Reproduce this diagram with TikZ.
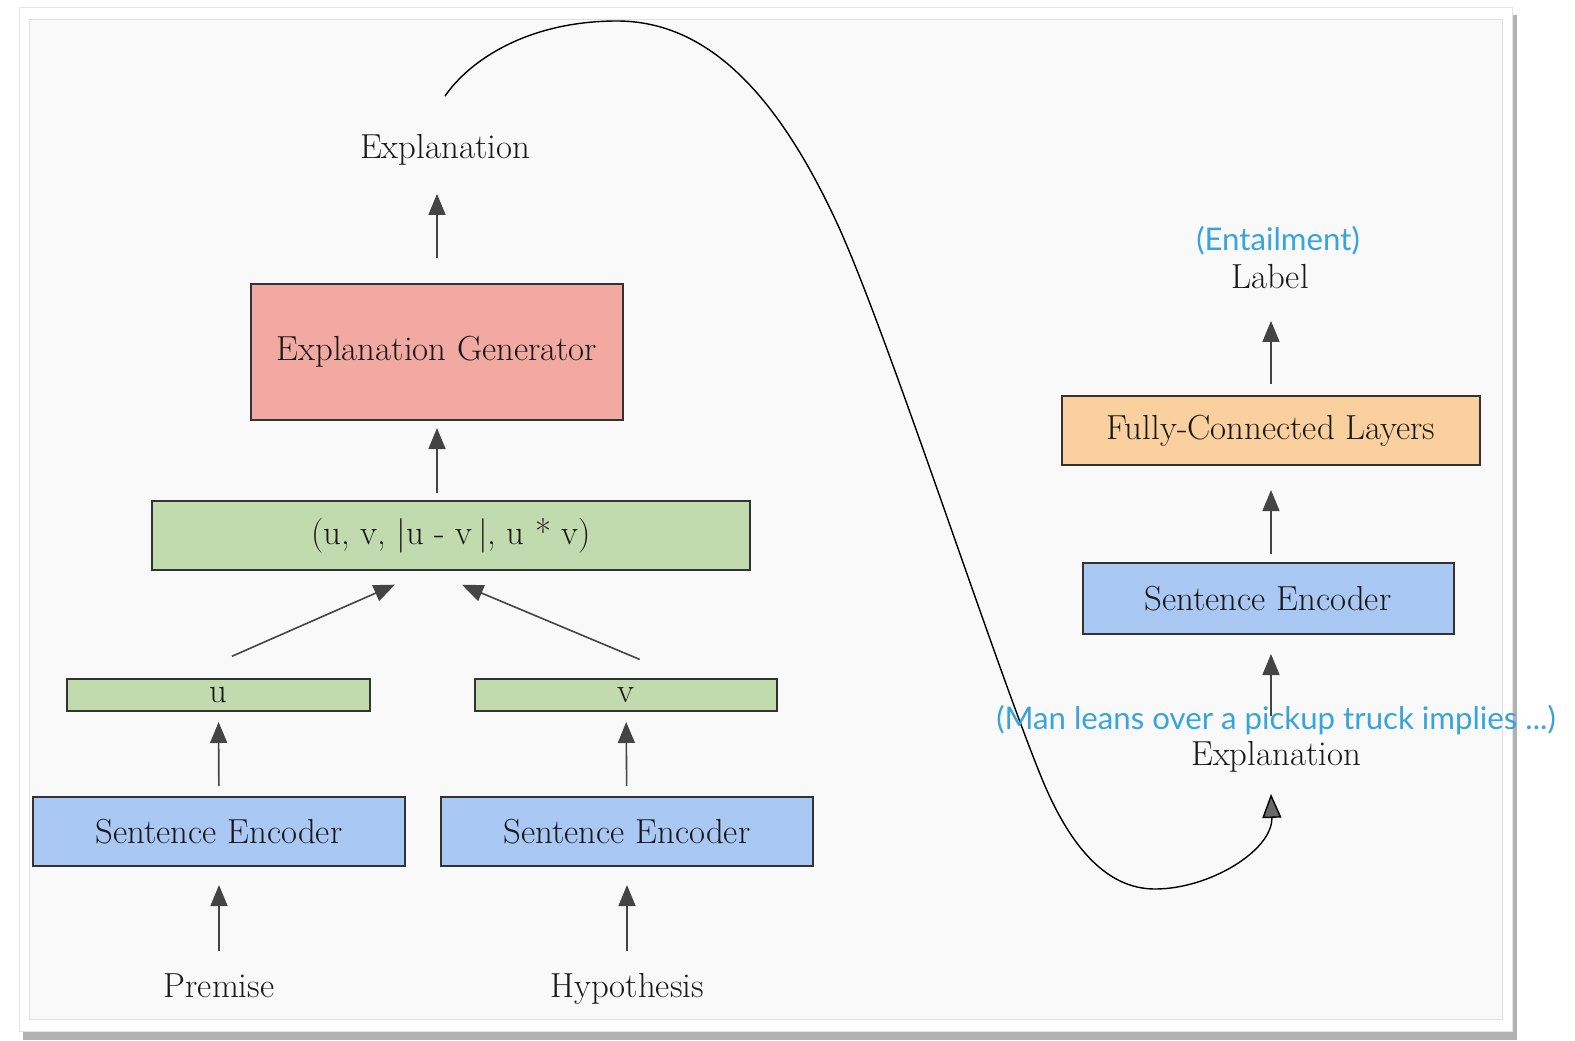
\documentclass[tikz,border=0pt]{standalone}
\usepackage{fontspec}
\newfontfamily\notefont{Lato}
\usetikzlibrary{arrows.meta}
\definecolor{genred}{HTML}{F2A9A2}
\definecolor{vecgreen}{HTML}{C2DBAE}
\definecolor{encblue}{HTML}{A9C8F4}
\definecolor{fcorange}{HTML}{FBD09F}
\definecolor{noteblue}{HTML}{38A4DC}
\definecolor{arrowgray}{HTML}{444444}
\definecolor{panel}{HTML}{F9F9F9}

\begin{document}
\begin{tikzpicture}[x=0.5pt,y=-0.5pt]
      \tikzset{
        block/.style={draw=black!80,line width=1pt,inner sep=0pt,text=black!90,font=\fontsize{17.4}{20}\selectfont},
        word/.style={inner sep=0pt,text height=12pt,text depth=3.5pt,text=black!90,font=\fontsize{17.4}{20}\selectfont},
        note/.style={inner sep=0pt,text=noteblue,font=\notefont\fontsize{15.6}{18}\selectfont},
        arr/.style={draw=arrowgray,line width=0.8pt,-{Triangle[length=10.5pt,width=8.5pt]},shorten <=5pt,shorten >=5pt},
        curve/.style={line width=0.7pt,-{Triangle[length=12pt,width=9.5pt,fill=arrowgray!80]}}
      }
      \useasboundingbox (0,0) rectangle (1575,1040);
      \fill[black!30] (23,15) rectangle (1517,1040);
      \filldraw[fill=white,draw=black!10] (19,7) rectangle (1512,1031);
      \filldraw[fill=panel,draw=black!12,line width=0.5pt] (29,19) rectangle (1502,1019);

      \node[block,fill=genred,minimum width=186pt,minimum height=68pt] (gen) at (437,352) {Explanation Generator};
      \node[block,fill=vecgreen,minimum width=299pt,minimum height=34.5pt] (vec) at (451,535.5) {(u, v, $\big|$u - v\,$\big|$, u * v)};
      \node[block,fill=vecgreen,minimum width=151.5pt,minimum height=16pt] (u) at (218.5,695) {u};
      \node[block,fill=vecgreen,minimum width=151pt,minimum height=16pt] (v) at (626,695) {v};
      \node[block,fill=encblue,minimum width=186pt,minimum height=34.5pt] (encP) at (219,831.5) {Sentence Encoder};
      \node[block,fill=encblue,minimum width=186pt,minimum height=34.5pt] (encH) at (627,831.5) {Sentence Encoder};
      \node[word] (prem) at (219,989) {Premise};
      \node[word] (hyp) at (627,989) {Hypothesis};
      \node[word] (expl) at (445,149.5) {Explanation};

      \node[block,fill=fcorange,minimum width=209pt,minimum height=34.5pt] (fc) at (1271,430.5) {Fully-Connected Layers};
      \node[block,fill=encblue,minimum width=185.5pt,minimum height=35.5pt] (encE) at (1268,598.5) {Sentence Encoder};
      \node[word] (label) at (1270,279.5) {Label};
      \node[note] (ent) at (1278,241) {(Entailment)};
      \node[word] (explR) at (1276,756.5) {Explanation};

      \draw[arr,shorten <=12.5pt,shorten >=14.25pt] (gen.north) -- (gen.north |- expl.south);
      \draw[arr,shorten <=3.5pt,shorten >=3.5pt] (gen.south |- vec.north) -- (gen.south);
      \draw[arr,shorten <=27pt,shorten >=17pt] ([xshift=-18pt]u.north) -- ([xshift=-12.5pt]vec.south);
      \draw[arr,shorten <=24pt,shorten >=18pt] ([xshift=29pt]v.north) -- ([xshift=-11pt]vec.south);
      \draw[arr] (encP) -- (u);
      \draw[arr] (encH) -- (v);
      \draw[arr,shorten <=11.25pt,shorten >=9pt] (prem) -- (encP);
      \draw[arr,shorten <=11.25pt,shorten >=9pt] (hyp) -- (encH);
      \draw[arr,shorten <=4pt,shorten >=12pt] (encE.north -| fc) -- (fc.south);
      \draw[arr,shorten <=5.5pt,shorten >=12.75pt] (fc.north) -- (fc.north |- label.south);
      \draw[arr,shorten <=12.25pt,shorten >=9.5pt] (explR.north -| fc) -- (encE.south -| fc);

      \draw[curve] ([yshift=18.75pt]expl.north) .. controls (469,61) and (527,21) .. (617,21)
            .. controls (705,21) and (775,90) .. (836,221)
            .. controls (885,326) and (990,650) .. (1040,774)
            .. controls (1068,844) and (1105,889) .. (1155,889)
            .. controls (1210,889) and (1273,850) .. ([yshift=-10.75pt]explR.south -| fc);

      \node[note] (man) at (1276,720) {(Man leans over a pickup truck implies ...)};
    \end{tikzpicture}
\end{document}
